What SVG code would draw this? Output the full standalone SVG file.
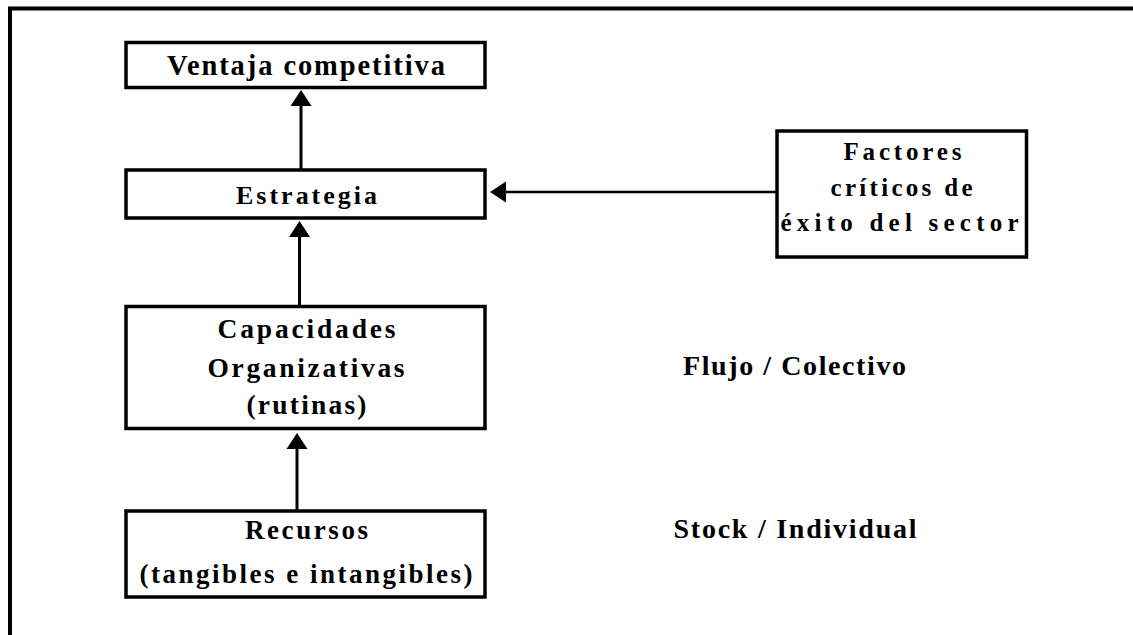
<svg xmlns="http://www.w3.org/2000/svg" width="1133" height="635" viewBox="0 0 1133 635">
  <style>
    .frame { fill: none; stroke: #000; stroke-width: 4; }
    .box { fill: #fff; stroke: #000; stroke-width: 3.5; }
    .lbl { font-family: "Liberation Serif", "Times New Roman", serif; font-weight: bold; fill: #000; }
    .edge { fill: none; stroke: #000; stroke-width: 3; }
    .edge.thin { stroke-width: 2.5; }
  </style>
  <defs>
    <marker id="head" viewBox="0 -11 17 22" markerUnits="userSpaceOnUse" markerWidth="17" markerHeight="22" refX="1" refY="0" orient="auto">
      <path d="M0,-10.5 L16,0 L0,10.5 Z" fill="#000"/>
    </marker>
  </defs>

  <rect width="1133" height="635" fill="#fff"/>
  <!-- outer frame, open past the right and bottom edges -->
  <rect class="frame" x="10" y="8.5" width="1140" height="640"/>

  <g id="ventaja">
    <rect class="box" x="126" y="42.5" width="359" height="45"/>
    <text class="lbl" x="167" y="74.5" font-size="28.5" textLength="278" lengthAdjust="spacing">Ventaja competitiva</text>
  </g>

  <g id="estrategia">
    <rect class="box" x="126" y="170" width="359" height="48"/>
    <text class="lbl" x="236" y="204" font-size="26" textLength="141" lengthAdjust="spacing">Estrategia</text>
  </g>

  <g id="factores">
    <rect class="box" x="777" y="131" width="249.5" height="126"/>
    <text class="lbl" x="843.5" y="159.5" font-size="25" textLength="118" lengthAdjust="spacing">Factores</text>
    <text class="lbl" x="830.5" y="195.5" font-size="25" textLength="142" lengthAdjust="spacing">críticos de</text>
    <text class="lbl" x="780.5" y="231" font-size="25" textLength="238" lengthAdjust="spacing">éxito del sector</text>
  </g>

  <g id="capacidades">
    <rect class="box" x="126" y="306.5" width="359" height="122"/>
    <text class="lbl" x="217.5" y="337.5" font-size="27.5" textLength="178" lengthAdjust="spacing">Capacidades</text>
    <text class="lbl" x="207.5" y="377" font-size="27.5" textLength="197" lengthAdjust="spacing">Organizativas</text>
    <text class="lbl" x="246.5" y="414" font-size="27.5" textLength="120" lengthAdjust="spacing">(rutinas)</text>
  </g>

  <g id="recursos">
    <rect class="box" x="126" y="511" width="359" height="86"/>
    <text class="lbl" x="245" y="538.5" font-size="27" textLength="123" lengthAdjust="spacing">Recursos</text>
    <text class="lbl" x="139.5" y="582.5" font-size="27" textLength="333" lengthAdjust="spacing">(tangibles e intangibles)</text>
  </g>

  <g id="flujo">
    <text class="lbl" x="683" y="375" font-size="28" textLength="223" lengthAdjust="spacing">Flujo / Colectivo</text>
  </g>

  <g id="stock">
    <text class="lbl" x="673.5" y="537.5" font-size="28" textLength="243" lengthAdjust="spacing">Stock / Individual</text>
  </g>

  <g id="connectors">
    <line class="edge" x1="301" y1="170" x2="301" y2="105" marker-end="url(#head)"/>
    <line class="edge" x1="299.5" y1="306" x2="299.5" y2="236" marker-end="url(#head)"/>
    <line class="edge" x1="297" y1="511" x2="297" y2="448" marker-end="url(#head)"/>
    <line class="edge thin" x1="777" y1="192" x2="505" y2="192" marker-end="url(#head)"/>
  </g>
</svg>
